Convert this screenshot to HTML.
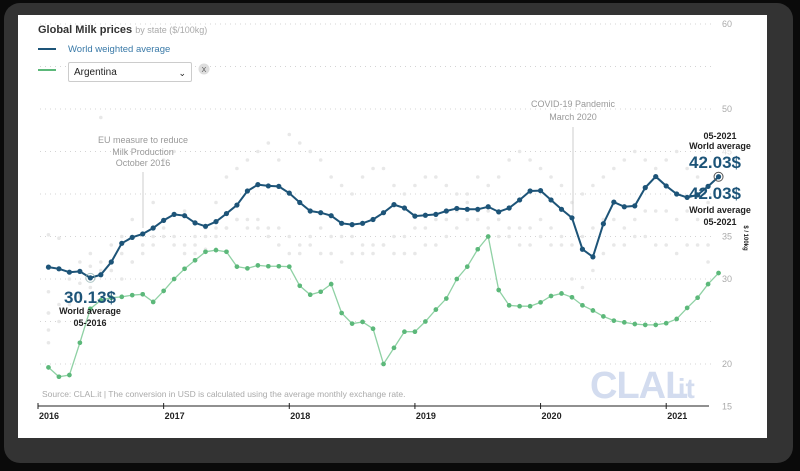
<!DOCTYPE html>
<html><head><meta charset="utf-8"><style>
html,body{margin:0;padding:0;background:#0a0a0a;width:800px;height:471px;overflow:hidden;font-family:"Liberation Sans",Arial,sans-serif}
#frame{position:absolute;left:4px;top:3px;width:789px;height:460px;background:#333;border-radius:16px}
#card{position:absolute;left:18px;top:15px;width:749px;height:423px;background:#fff}
svg{position:absolute;left:0;top:0}
#sel{position:absolute;left:68px;top:62px;width:124px;height:20px;border:1px solid #ccc;border-radius:2px;background:#fff;font-size:10px;color:#222;line-height:20px;padding-left:5px;box-sizing:border-box}
</style></head><body>
<div id="frame"></div>
<div id="card"></div>
<svg id="chart" width="800" height="471"></svg>
<div id="sel">Argentina<span style="position:absolute;right:5px;top:0;font-size:9px">&#x2304;</span></div>
<script>
const months = ["2016","2017","2018","2019","2020","2021"];
const yTicks = [60,50,45,35,30,20,15];
const gridVals = [60,55,50,45,40,35,30,25,20];
const worldAvg = [31.4,31.2,30.8,30.9,30.13,30.5,32.0,34.2,34.9,35.3,36.0,36.9,
37.6,37.45,36.6,36.2,36.75,37.7,38.7,40.35,41.1,40.95,40.9,40.1,
39.0,38.0,37.8,37.45,36.55,36.4,36.55,37.0,37.8,38.75,38.35,37.4,
37.5,37.6,38.0,38.3,38.2,38.2,38.5,37.9,38.35,39.3,40.35,40.4,
39.3,38.2,37.2,33.5,32.6,36.5,39.05,38.5,38.6,40.75,42.05,40.95,
40.0,39.6,39.9,40.9,42.03];
const argentina = [19.6,18.5,18.7,22.5,26.5,27.5,27.8,27.9,28.1,28.2,27.3,28.6,
30.0,31.2,32.2,33.2,33.4,33.2,31.45,31.25,31.6,31.5,31.5,31.45,
29.2,28.15,28.5,29.4,26.0,24.75,24.95,24.15,20.0,21.9,23.8,23.8,
25.0,26.4,27.7,30.0,31.45,33.5,35.0,28.7,26.9,26.8,26.8,27.25,
28.0,28.3,27.85,26.9,26.3,25.6,25.1,24.9,24.7,24.6,24.6,24.8,
25.3,26.6,27.8,29.4,30.7];
const otherIdx = [0,0,1,2,3,4,5,6,7,8,9,10,11,12,13,14,15,16,17,18,19,20,21,22,23,24,25,26,27,28,29,30,31,32,33,34,35,36,37,38,39,40,41,42,43,44,45,46,47,48,49,50,51,52,53,54,55,56,57,58,59,60,61,62,63,64];
const otherA = [35.2,26,34.8,28,29.5,31.5,49,34,35,37,34,39,44,45,38,35,36,39,42,43,44,45,46,44,47,46,45,44,42,41,40,42,43,43,41,40,41,42,42,41,40,40,42,41,42,44,45,44,43,42,41,39,40,41,42,43,44,45,44,43,44,45,43,42,39];
const otherB = [28.5,24,27,30,32,33,32,31,33,32,33,34,35,34,33,33,33.5,35,36,37,36,37,36,36,35,34,34,33,33,32,33,33,34,34,33,33,33,34,34,35,36,37,37,36,35,35,34,34,35,34,34,30,29,31,33,34,34,35,35,34,34,33,34,34,34];
const otherC = [26,22.5,25,27,28,29,31,31,30,32,34,35,36,35,34,34,35,36,36,37,37,36,35,34,33,33,35,36,35,35,35,34,33,34,35,35,36,36,37,37,38,39,38,38,37,36,36,36,37,36,35,34,35,36,37,37,36,37,38,38,38,37,38,37,32];
const NS="http://www.w3.org/2000/svg";
const svg=document.getElementById('chart');
const X0=38, PXM=10.47;
function xs(i){return X0+PXM*(i+1);}
function xy(yearIdx){return X0+PXM*12*yearIdx;}
function ys(v){return 24+(60-v)*8.5;}
function mk(tag,attrs,parent){const e=document.createElementNS(NS,tag);for(const k in attrs)e.setAttribute(k,attrs[k]);(parent||svg).appendChild(e);return e;}
function txt(s,x,y,attrs){const t=mk('text',Object.assign({x:x,y:y},attrs));t.textContent=s;return t;}
gridVals.forEach(v=>{const l=mk('line',{x1:40,x2:712,y1:ys(v),y2:ys(v),stroke:'#d4d4d4','stroke-dasharray':'1,4','stroke-width':1});

});
yTicks.forEach(v=>{const t=txt(String(v),722,ys(v)+3,{'font-size':9,fill:v===45?'#ddd':'#aaa'});

});
const yt=txt('$ / 100kg',0,0,{'font-size':6,'font-weight':'bold',fill:'#222',transform:'translate(744,238) rotate(90)','text-anchor':'middle'});


[otherA,otherB,otherC].forEach(arr=>{arr.forEach((v,k)=>{const c=mk('circle',{cx:xs(otherIdx[k]),cy:ys(v),r:1.8,fill:'#e8e8e8'});

});});
mk('line',{x1:143,x2:143,y1:172,y2:228,stroke:'#ccc'});
[['EU measure to reduce',143],['Milk Production',155],['October 2016',166]].forEach(a=>{const t=txt(a[0],143,a[1],{'font-size':9,fill:'#999','text-anchor':'middle'});

});
mk('line',{x1:573,x2:573,y1:127,y2:215,stroke:'#ccc'});
[['COVID-19 Pandemic',107],['March 2020',120]].forEach(a=>{const t=txt(a[0],573,a[1],{'font-size':9,fill:'#999','text-anchor':'middle'});

});
const wm=txt('CLAL',590,398,{'font-size':38,'font-weight':'bold',fill:'#d3dcef','letter-spacing':'-1'});


txt('.it',670,398,{'font-size':28,'font-weight':'bold',fill:'#d3dcef'});
function series(arr,color,w,r,name){
  const pts=arr.map((v,i)=>xs(i)+','+ys(v)).join(' ');
  const pl=mk('polyline',{points:pts,fill:'none',stroke:color,'stroke-width':w});
  
  
  arr.forEach((v,i)=>{const c=mk('circle',{cx:xs(i),cy:ys(v),r:r,fill:color});
  
  });
}
series(argentina,'#8fd1a4',1.3,2.3,'argentina');
argentina.forEach((v,i)=>{mk('circle',{cx:xs(i),cy:ys(v),r:2.3,fill:'#5cb87a'});});
series(worldAvg,'#1d5478',2,2.6,'world-average');
mk('circle',{cx:xs(4),cy:ys(worldAvg[4]),r:4.5,fill:'none',stroke:'#8aa',opacity:0.7});
mk('circle',{cx:xs(64),cy:ys(worldAvg[64]),r:4.5,fill:'none',stroke:'#555'});
mk('line',{x1:38,x2:709,y1:406,y2:406,stroke:'#222','stroke-width':1});
months.forEach((m,k)=>{mk('line',{x1:xy(k),x2:xy(k),y1:403,y2:409,stroke:'#222'});
const t=txt(m,xy(k)+1,419,{'font-size':9,'font-weight':'bold',fill:'#222'});

});
const src=txt('Source: CLAL.it | The conversion in USD is calculated using the average monthly exchange rate.',42,397,{'font-size':8.5,fill:'#aaa'});


function lbl(s,x,y,size,color,name){const t=txt(s,x,y,{'font-size':size,'font-weight':'bold',fill:color,'text-anchor':'middle'});

}
lbl('30.13$',90,303,17,'#1d5478','start-value');
lbl('World average',90,314,9,'#222','start-label');
lbl('05-2016',90,326,9,'#222','start-date');
lbl('05-2021',720,139,9,'#222','end-date');
lbl('World average',720,149,9,'#222','end-label');
lbl('42.03$',715,168,17,'#1d5478','end-value');
lbl('42.03$',715,199,17,'#1d5478','end-value-2');
lbl('World average',720,213,9,'#222','end-label-2');
lbl('05-2021',720,225,9,'#222','end-date-2');
const ti=txt('',38,33,{'font-size':11,'font-weight':'bold',fill:'#333'});


ti.innerHTML='Global Milk prices <tspan font-weight="normal" font-size="9" fill="#aaa">by state ($/100kg)</tspan>';
mk('line',{x1:38,x2:56,y1:49,y2:49,stroke:'#1d5478','stroke-width':2});
const l1=txt('World weighted average',68,52,{'font-size':9.5,fill:'#3a7aa8'});


mk('line',{x1:38,x2:56,y1:70,y2:70,stroke:'#5cb87a','stroke-width':2});
const xb=mk('circle',{cx:204,cy:69,r:5.5,fill:'#ddd'});


txt('X',204,72,{'font-size':7,fill:'#555','text-anchor':'middle'});
</script>
</body></html>
